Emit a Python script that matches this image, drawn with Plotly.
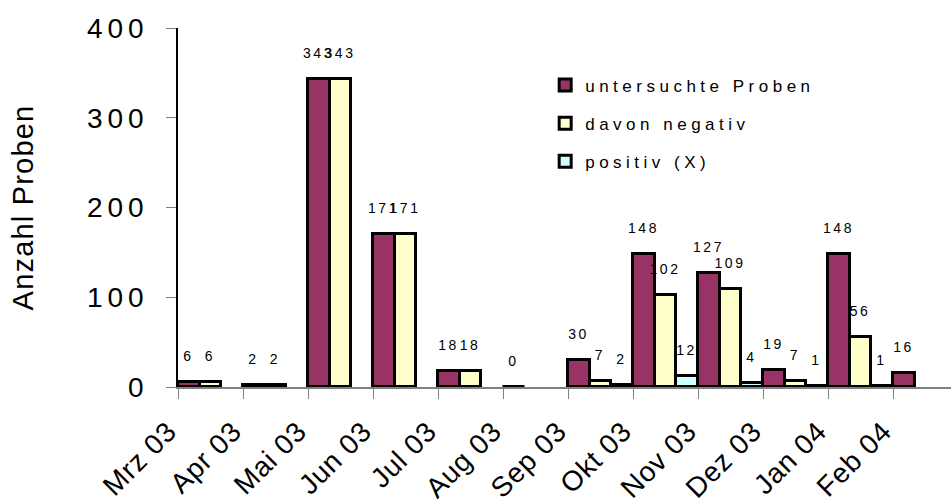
import plotly.graph_objects as go

# Monthly sample counts
months = ["Mrz 03", "Apr 03", "Mai 03", "Jun 03", "Jul 03", "Aug 03",
          "Sep 03", "Okt 03", "Nov 03", "Dez 03", "Jan 04", "Feb 04"]
untersucht = [6, 2, 343, 171, 18, 0, 30, 148, 127, 19, 148, 16]
negativ = [6, 2, 343, 171, 18, None, 7, 102, 109, 7, 56, None]
positiv = [None, None, None, None, None, None, 2, 12, 4, 1, 1, None]

series_names = ["untersuchte Proben", "davon negativ", "positiv (X)"]
series_colors = ["#993366", "#FFFFCC", "#CCFFFF"]
y_ticks = [0, 100, 200, 300, 400]

FONT = "Arial, 'Liberation Sans', sans-serif"


def spaced(s, px):
    return f"<span style='letter-spacing:{px}px'>{s}</span>"


def value_labels(vals):
    # value on top, a blank spacer line below lifts it clear of the bar
    return [f"<span style='letter-spacing:2.5px;font-size:14px'>{v}</span>"
            "<br><span style='font-size:10px'>\u00a0</span>"
            if v is not None else "" for v in vals]


fig = go.Figure()
for i, (name, vals, col) in enumerate(zip(series_names,
                                          [untersucht, negativ, positiv],
                                          series_colors)):
    fig.add_trace(go.Bar(
        x=months, y=vals, name=spaced(name, 4.5),
        marker=dict(color=col, line=dict(color="black", width=3)),
        text=value_labels(vals), textposition="outside",
        textfont=dict(family=FONT, size=12, color="black"),
        constraintext="none", cliponaxis=False,
        legendgroup=f"g{i}", hoverinfo="skip",
    ))

fig.update_layout(
    width=951, height=504,
    margin=dict(l=178, r=0, t=28, b=117, autoexpand=False),
    paper_bgcolor="white", plot_bgcolor="white",
    barmode="group", bargap=0, bargroupgap=0,
    font=dict(family=FONT, color="black"),
    showlegend=True,
    legend=dict(
        x=0.475, y=0.89, xanchor="left", yanchor="top",
        font=dict(size=17, family=FONT), tracegroupgap=13,
        bgcolor="rgba(0,0,0,0)", traceorder="grouped",
    ),
    xaxis=dict(
        type="category", range=[-0.5, 11.392],
        tickson="boundaries", ticks="outside", ticklen=10, tickcolor="#808080",
        tickmode="array", tickvals=months,
        ticktext=[spaced(m, 0.8) for m in months],
        tickangle=-45, tickfont=dict(size=28, family=FONT),
        ticklabelshift=-42, ticklabelstandoff=15,
        showline=True, linecolor="#808080", linewidth=1.5,
        showgrid=False, zeroline=False, automargin=False,
    ),
    yaxis=dict(
        range=[0, 400], tickmode="array", tickvals=y_ticks,
        ticktext=[spaced(t, 5) for t in y_ticks],
        ticks="outside", ticklen=10, tickcolor="#808080",
        tickfont=dict(size=28, family=FONT), ticklabelstandoff=12,
        showline=True, linecolor="black", linewidth=1.5,
        showgrid=False, zeroline=False, automargin=False,
        title=dict(text=spaced("Anzahl Proben", 1.2),
                   font=dict(size=29, family=FONT), standoff=45),
    ),
)

fig.write_html("out.html")
